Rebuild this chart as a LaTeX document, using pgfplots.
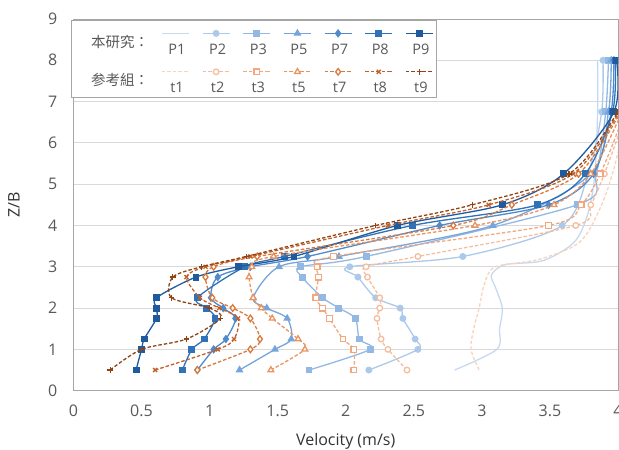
\documentclass[border=0pt]{standalone}
\usepackage{pgfplots}
\pgfplotsset{compat=1.18}
\usepackage{fontspec}
\setmainfont{Open Sans}
\newfontfamily\cjk{Noto Sans CJK TC}
\newcommand\ff{\fontsize{14.5bp}{17bp}\selectfont}
\newcommand\fa{\fontsize{16bp}{19bp}\selectfont}

\definecolor{p1}{HTML}{C5DAF0}
\definecolor{p2}{HTML}{ADC9EA}
\definecolor{p3}{HTML}{92B8E3}
\definecolor{p5}{HTML}{75A5DB}
\definecolor{p7}{HTML}{4F8ACB}
\definecolor{p8}{HTML}{2F72B8}
\definecolor{p9}{HTML}{1F5A9E}
\definecolor{t1}{HTML}{FAD3BA}
\definecolor{t2}{HTML}{F6BD9C}
\definecolor{t3}{HTML}{F2A77E}
\definecolor{t5}{HTML}{E99460}
\definecolor{t7}{HTML}{D87A3E}
\definecolor{t8}{HTML}{C0602A}
\definecolor{t9}{HTML}{8F4415}
\definecolor{tick}{HTML}{595959}

\pgfplotsset{
  lg/.style={legend image code/.code={%
     \path[draw=none, fill=none] (-10.7bp,-17bp) rectangle (29bp,21.5bp);
     \draw[mark repeat=2,mark phase=2,##1] plot coordinates {(0bp,8.5bp) (13.5bp,8.5bp) (27bp,8.5bp)};
     \node[text=tick, font=\ff, anchor=base, inner sep=0pt] at (15bp,-12.5bp) {#1};
  }},
  Pline/.style={solid, line width=1.3bp, smooth, tension=0.5},
  tline/.style={dash pattern=on 3.5bp off 2bp, line width=1.3bp, smooth, tension=0.5},
  pm/.style={mark size=2.8bp, mark options={solid, fill=#1}},
  tm/.style={mark size=2.8bp, mark options={solid, fill=white}},
}

\begin{document}
\begin{tikzpicture}
\begin{axis}[
  name=ax,
  scale only axis, width=545bp, height=372bp,
  xmin=0, xmax=4, ymin=0, ymax=9,
  xtick={0,0.5,1,1.5,2,2.5,3,3.5,4}, ytick={0,1,2,3,4,5,6,7,8,9},
  ymajorgrids, major grid style={draw=black!15, line width=0.8bp},
  axis line style={draw=black!35, line width=0.8bp},
  major tick length=0pt,
  /pgf/number format/assume math mode=true,
  tick label style={font=\fa, text=tick},
  xticklabel style={anchor=base, yshift=-25.5bp},
  yticklabel style={anchor=east, inner sep=0pt, xshift=-16bp},
  xlabel={Velocity (m/s)}, ylabel={Z/B},
  every axis x label/.style={at={(axis description cs:0.5,0)}, anchor=base, yshift=-54.5bp, font=\fa, text=black!80},
  every axis y label/.style={at={(axis description cs:0,0.5)}, rotate=90, anchor=center, yshift=59.5bp, font=\fa, text=black!80},
  clip marker paths=true,
  legend columns=8,
  legend cell align=left,
  legend style={at={(rel axis cs:0,1)}, anchor=north west, xshift=-2.5bp, yshift=-1bp,
    draw=black!35, line width=0.8bp, fill=white, inner sep=0pt,
    /tikz/column sep=0pt, /tikz/row sep=0pt,
    nodes={inner sep=0pt, font=\ff, text=tick}},
]
\addlegendimage{empty legend}
\addlegendentry{\makebox[80bp][l]{\hspace*{19.7bp}\cjk 本研究：}}

\addplot[Pline, p1, lg=P1] coordinates {(2.80,0.5) (3.11,1.0) (3.13,1.5) (3.15,2.0) (3.10,2.5) (3.07,2.8) (3.17,3.05) (3.45,3.15) (3.68,3.6) (3.78,4.3) (3.83,5.25) (3.85,6.75) (3.85,8.0)};
\addlegendentry{\mbox{}}
\addplot[Pline, p2, mark=*, pm=p2, lg=P2] coordinates {(2.17,0.5) (2.53,1.0) (2.51,1.25) (2.42,1.75) (2.40,2.0) (2.22,2.25) (2.09,2.75) (2.03,3.0) (2.86,3.25) (3.59,4.0) (3.78,5.25) (3.88,6.75) (3.89,8.0)};
\addlegendentry{\mbox{}}
\addplot[Pline, p3, mark=square*, pm=p3, lg=P3] coordinates {(1.73,0.5) (2.18,1.0) (2.10,1.25) (2.07,1.75) (1.95,2.0) (1.83,2.25) (1.68,2.75) (1.67,3.0) (2.15,3.25) (3.70,4.5) (3.84,5.25) (3.91,6.75) (3.93,8.0)};
\addlegendentry{\mbox{}}
\addplot[Pline, p5, mark=triangle*, pm=p5, mark size=3.3bp, lg=P5] coordinates {(1.22,0.5) (1.48,1.0) (1.60,1.25) (1.57,1.75) (1.42,2.0) (1.32,2.25) (1.51,3.0) (1.95,3.25) (3.08,4.0) (3.80,5.25) (3.93,6.75) (3.95,8.0)};
\addlegendentry{\mbox{}}
\addplot[Pline, p7, mark=diamond*, pm=p7, mark size=3.3bp, lg=P7] coordinates {(0.91,0.5) (1.03,1.0) (1.12,1.25) (1.19,1.75) (1.10,2.0) (1.01,2.25) (1.06,2.75) (1.30,3.0) (1.72,3.25) (2.69,4.0) (3.49,4.5) (3.82,5.25) (3.95,6.75) (3.97,8.0)};
\addlegendentry{\mbox{}}
\addplot[Pline, p8, mark=square*, pm=p8, lg=P8] coordinates {(0.80,0.5) (0.87,1.0) (0.96,1.25) (1.04,1.75) (0.98,2.0) (0.91,2.25) (1.26,3.0) (1.55,3.25) (2.49,4.0) (3.41,4.5) (3.76,5.25) (3.96,6.75) (3.98,8.0)};
\addlegendentry{\mbox{}}
\addplot[Pline, p9, mark=square*, pm=p9, lg=P9] coordinates {(0.46,0.5) (0.50,1.0) (0.52,1.25) (0.61,1.75) (0.61,2.0) (0.61,2.25) (0.90,2.75) (1.21,3.0) (1.62,3.25) (2.38,4.0) (3.15,4.5) (3.60,5.25) (3.97,6.75) (3.99,8.0)};
\addlegendentry{\mbox{}}

\addlegendimage{empty legend}
\addlegendentry{\makebox[80bp][l]{\hspace*{19.7bp}\cjk 参考組：}}

\addplot[tline, t1, lg=t1] coordinates {(2.98,0.5) (2.92,1.0) (2.94,1.5) (2.98,2.0) (3.02,2.6) (3.10,3.0) (3.42,3.18) (3.72,3.6) (3.88,4.5) (3.98,5.5) (4.06,6.75) (4.12,8.0)};
\addlegendentry{\mbox{}}
\addplot[tline, t2, mark=*, tm, lg=t2] coordinates {(2.45,0.5) (2.31,1.0) (2.26,1.25) (2.23,1.75) (2.25,2.0) (2.25,2.25) (2.16,2.75) (2.15,3.0) (2.53,3.25) (3.69,4.0) (3.80,4.5) (3.90,5.25) (4.06,6.75) (4.15,8.0)};
\addlegendentry{\mbox{}}
\addplot[tline, t3, mark=square*, tm, lg=t3] coordinates {(2.06,0.5) (2.06,1.0) (1.98,1.25) (1.88,1.75) (1.83,2.0) (1.78,2.25) (1.80,2.75) (1.79,3.0) (1.91,3.25) (3.49,4.0) (3.73,4.5) (3.87,5.25) (4.05,6.75) (4.15,8.0)};
\addlegendentry{\mbox{}}
\addplot[tline, t5, mark=triangle*, tm, mark size=3.3bp, lg=t5] coordinates {(1.45,0.5) (1.70,1.0) (1.65,1.25) (1.46,1.75) (1.38,2.0) (1.32,2.25) (1.29,2.75) (1.31,3.0) (1.47,3.25) (2.95,4.0) (3.53,4.5) (3.80,5.25) (4.03,6.75) (4.18,8.0)};
\addlegendentry{\mbox{}}
\addplot[tline, t7, mark=diamond*, tm, mark size=3.3bp, lg=t7] coordinates {(0.91,0.5) (1.30,1.0) (1.37,1.25) (1.30,1.75) (1.17,2.0) (1.02,2.25) (0.97,2.75) (1.03,3.0) (1.35,3.25) (2.79,4.0) (3.22,4.5) (3.71,5.25) (4.02,6.75) (4.20,8.0)};
\addlegendentry{\mbox{}}
\addplot[tline, t8, mark=x, tm, lg=t8] coordinates {(0.60,0.5) (1.06,1.0) (1.18,1.25) (1.21,1.75) (1.07,2.0) (0.93,2.25) (0.83,2.75) (0.97,3.0) (1.30,3.25) (2.31,4.0) (3.05,4.5) (3.67,5.25) (4.01,6.75) (4.20,8.0)};
\addlegendentry{\mbox{}}
\addplot[tline, t9, mark=+, tm, lg=t9] coordinates {(0.27,0.5) (0.50,1.0) (0.83,1.25) (1.08,1.75) (1.00,2.0) (0.72,2.25) (0.73,2.75) (0.94,3.0) (1.27,3.25) (2.22,4.0) (2.93,4.5) (3.64,5.25) (4.00,6.75) (4.20,8.0)};
\addlegendentry{\mbox{}}
\end{axis}
\pgfresetboundingbox
\path (ax.south west) +(-73.5bp,-59bp) (ax.north east) +(1bp,19bp);
\end{tikzpicture}
\end{document}
